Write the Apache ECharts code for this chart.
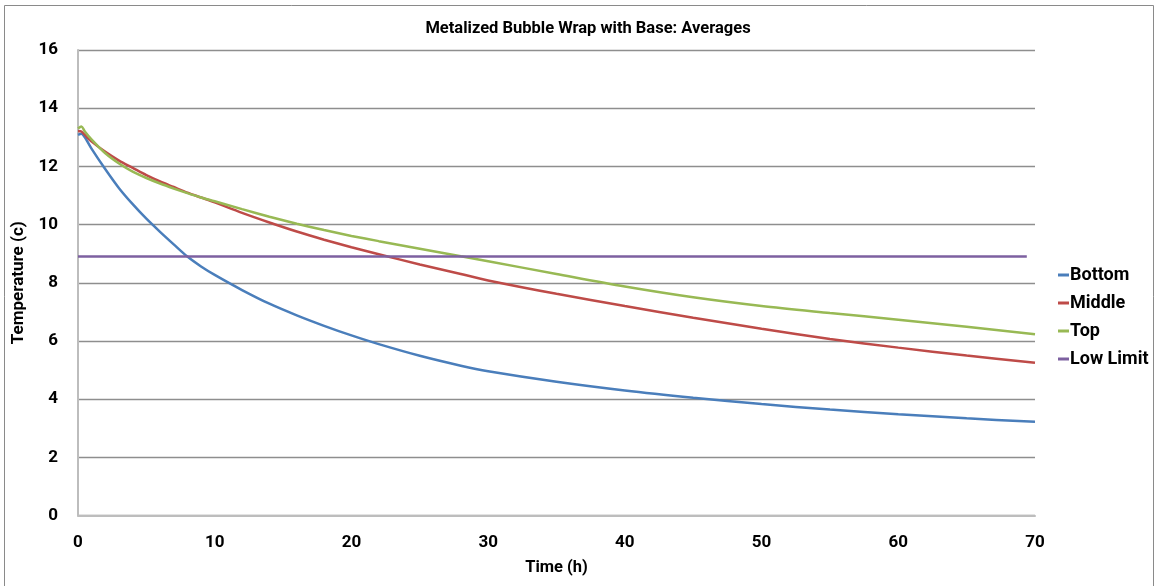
<!DOCTYPE html>
<html>
<head>
<meta charset="utf-8">
<script src="https://cdn.jsdelivr.net/npm/echarts@6/dist/echarts.min.js"></script>
<style>
html,body{margin:0;padding:0;background:#fff;}
#chart{width:1156px;height:586px;}
</style>
</head>
<body>
<div id="chart"></div>
<script>
const titleText = 'Metalized Bubble Wrap with Base: Averages';
const xName = 'Time (h)';
const yName = 'Temperature (c)';
const seriesNames = ['Bottom', 'Middle', 'Top', 'Low Limit'];
const times = [0, 0.25, 0.5, 1, 2, 3, 4, 5, 6, 7, 8, 9, 10, 12, 14, 16, 18, 20, 22, 25, 28, 30, 35, 40, 45, 50, 55, 60, 65, 70];
const bottom = [13.08, 13.12, 13.0, 12.6, 11.9, 11.25, 10.7, 10.2, 9.75, 9.32, 8.9, 8.56, 8.27, 7.75, 7.28, 6.88, 6.52, 6.19, 5.89, 5.49, 5.15, 4.96, 4.6, 4.3, 4.05, 3.83, 3.64, 3.48, 3.34, 3.22];
const middle = [13.22, 13.2, 13.08, 12.85, 12.5, 12.2, 11.95, 11.7, 11.48, 11.29, 11.1, 10.93, 10.76, 10.4, 10.07, 9.76, 9.48, 9.22, 8.98, 8.63, 8.3, 8.08, 7.62, 7.2, 6.8, 6.42, 6.07, 5.77, 5.5, 5.25];
const top_ = [13.3, 13.37, 13.2, 12.92, 12.45, 12.1, 11.82, 11.6, 11.41, 11.24, 11.08, 10.93, 10.8, 10.53, 10.27, 10.03, 9.81, 9.61, 9.43, 9.17, 8.91, 8.74, 8.3, 7.87, 7.5, 7.2, 6.96, 6.73, 6.49, 6.23];
const lowTimes = [0, 69.4];
const lowLimit = [8.9, 8.9];
const xTicks = [0, 10, 20, 30, 40, 50, 60, 70];
const yTicks = [0, 2, 4, 6, 8, 10, 12, 14, 16];

const colors = ['#4A7EBB', '#BE4B48', '#98B954', '#7D60A0'];
const FONT = 'Roboto, "Liberation Sans", sans-serif';

function pairs(xs, ys) { return xs.map((x, i) => [x, ys[i]]); }

const chart = echarts.init(document.getElementById('chart'), null, {renderer: 'canvas'});
const lineSeries = (name, xs, ys, color, smooth) => ({
  name, type: 'line', data: pairs(xs, ys), showSymbol: false, symbol: 'none',
  smooth: smooth, lineStyle: {color, width: 2.5}, itemStyle: {color}, z: 3
});

chart.setOption({
  animation: false,
  backgroundColor: '#fff',
  title: {
    text: titleText, left: 583, top: 15, textAlign: 'center',
    textStyle: {fontFamily: FONT, fontWeight: 700, fontSize: 16.5, color: '#000'}
  },
  grid: {left: 78, right: 121, top: 50, bottom: 70.5, containLabel: false},
  legend: {
    orient: 'vertical', left: 1053, top: 261, itemGap: 10,
    itemWidth: 11, itemHeight: 3, icon: 'rect',
    data: seriesNames,
    textStyle: {fontFamily: FONT, fontWeight: 700, fontSize: 18, color: '#000', padding: [0, 0, 0, -4]}
  },
  xAxis: {
    type: 'value', min: xTicks[0], max: xTicks[xTicks.length - 1], interval: 10,
    name: xName, nameLocation: 'middle', nameGap: 44,
    nameTextStyle: {fontFamily: FONT, fontWeight: 700, fontSize: 16.5, color: '#000'},
    axisLine: {show: true, lineStyle: {color: '#BDBDBD', width: 2}},
    axisTick: {show: false},
    splitLine: {show: false},
    axisLabel: {margin: 19, fontFamily: FONT, fontWeight: 700, fontSize: 17, color: '#000'}
  },
  yAxis: {
    type: 'value', min: yTicks[0], max: yTicks[yTicks.length - 1], interval: 2,
    name: yName, nameLocation: 'middle', nameGap: 51, nameRotate: 90,
    nameTextStyle: {fontFamily: FONT, fontWeight: 700, fontSize: 17, color: '#000'},
    axisLine: {show: true, lineStyle: {color: '#BDBDBD', width: 2}},
    axisTick: {show: false},
    splitLine: {show: true, lineStyle: {color: '#8E8E8E', width: 1.3}},
    axisLabel: {margin: 20, fontFamily: FONT, fontWeight: 700, fontSize: 17, color: '#000', padding: [4, 0, 0, 0]}
  },
  graphic: [{
    type: 'rect', shape: {x: 4.5, y: 5.5, width: 1149, height: 600},
    style: {fill: 'none', stroke: '#8A8A8A', lineWidth: 1}, silent: true, z: -1
  }],
  series: [
    lineSeries(seriesNames[0], times, bottom, colors[0], 0.3),
    lineSeries(seriesNames[1], times, middle, colors[1], 0.3),
    lineSeries(seriesNames[2], times, top_, colors[2], 0.3),
    lineSeries(seriesNames[3], lowTimes, lowLimit, colors[3], false)
  ]
});
</script>
</body>
</html>
